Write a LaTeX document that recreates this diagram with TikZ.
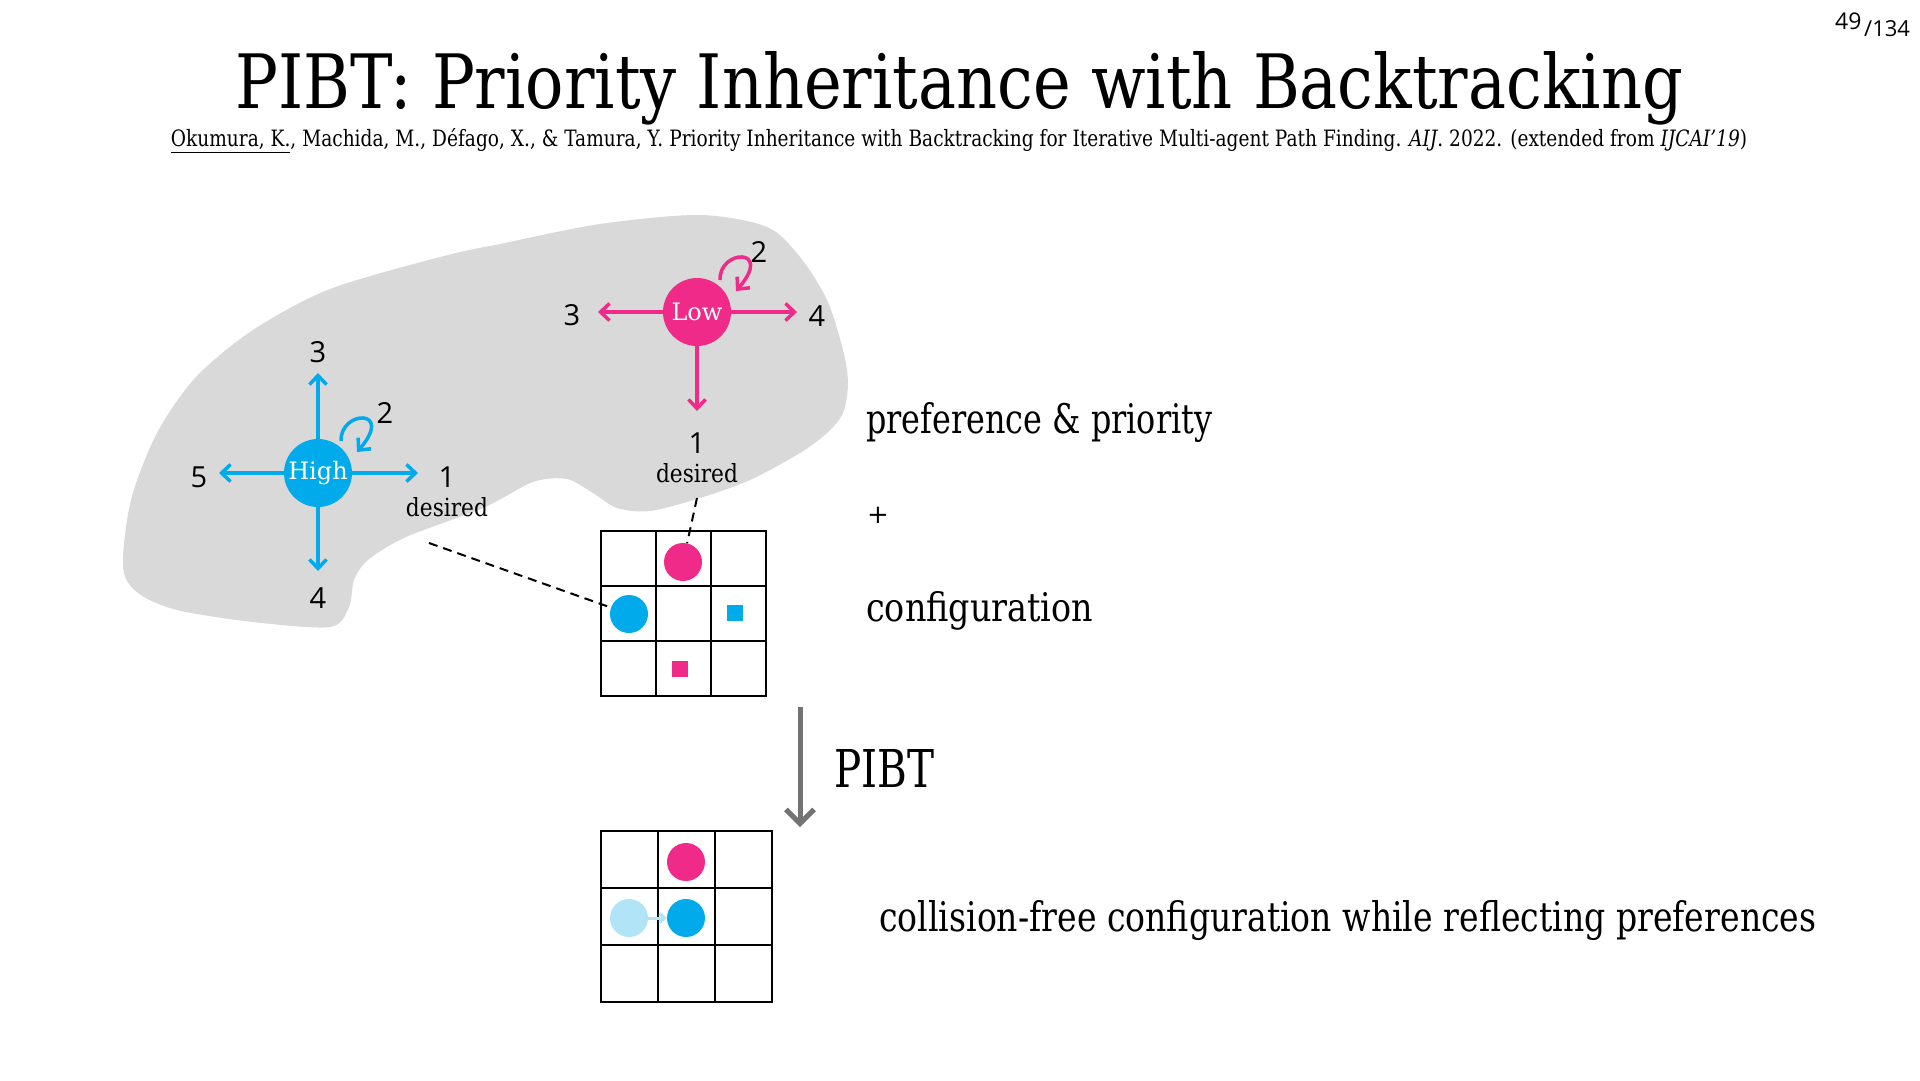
\documentclass[tikz,border=0pt]{standalone}
\usepackage{fontspec}
\setmainfont{DejaVu Serif}
\newfontfamily\numfont{Open Sans}
\usetikzlibrary{arrows.meta}
\definecolor{hiblue}{RGB}{0,170,235}
\definecolor{lopink}{RGB}{240,42,136}
\definecolor{paleblue}{RGB}{178,228,247}
\definecolor{blobgray}{RGB}{217,217,217}
\definecolor{arrowgray}{RGB}{115,115,115}
\begin{document}
\begin{tikzpicture}[x=1pt,y=-1pt,
  agent/.style={circle, minimum size=68pt, inner sep=0pt, text=white, font=\fontsize{24}{24}\selectfont},
  pref/.style={line width=3.5pt, -{Straight Barb[length=9pt,width=17pt]}},
  num/.style={font=\numfont\fontsize{29}{29}\selectfont, inner sep=0pt},
  cellbox/.style={draw=black, line width=2.5pt},
  token/.style={circle, minimum size=38pt, inner sep=0pt},
  goal/.style={minimum size=16pt, inner sep=0pt},
  dashlink/.style={draw=black, line width=2pt, dash pattern=on 9pt off 6pt},
  txt/.style={inner sep=0pt, anchor=base west}]
\useasboundingbox (0,0) rectangle (1920,1080);
\fill[white] (0,0) rectangle (1920,1080);

% title and reference
\node[anchor=base, inner sep=0pt] (title) at (959,108)
  {\resizebox{1447pt}{57pt}{PIBT: Priority Inheritance with Backtracking}};
\node[anchor=base, inner sep=0pt] (cite) at (959,146)
  {\resizebox{1576pt}{18pt}{\underline{Okumura, K.}, Machida, M., Défago, X., \& Tamura, Y. Priority Inheritance with Backtracking for Iterative Multi-agent Path Finding. \textit{AIJ}. 2022. (extended from \textit{IJCAI’19})}};
\node[txt, font=\numfont\fontsize{23}{23}\selectfont] (pg) at (1835,29) {49};
\node[txt, font=\numfont\fontsize{22}{22}\selectfont] (pgtot) at (1864,36) {/134};

% gray blob
\fill[blobgray] plot[smooth cycle, tension=0.5] coordinates {
 (123,567) (138,593) (177,610) (253,622) (330,627) (349,607) (354,580)
 (368,560) (406,537) (483,508) (533,482) (567,479) (593,493) (617,508)
 (650,511) (700,498) (750,480) (800,453) (827,433) (843,413) (848,383)
 (843,350) (827,300) (800,257) (767,227) (700,215) (600,224) (500,244)
 (444,256) (330,289) (253,330) (196,377) (157,433) (131,500)};

% High agent
\node[agent, fill=hiblue] (high) at (318,473) {High};
\coordinate (h1tip) at (418,473);
\coordinate (h3tip) at (318,373);
\coordinate (h4tip) at (318,571);
\coordinate (h5tip) at (219,473);
\draw[pref, hiblue] (high) -- (h1tip);
\draw[pref, hiblue] (high) -- (h3tip);
\draw[pref, hiblue] (high) -- (h4tip);
\draw[pref, hiblue] (high) -- (h5tip);
\draw[pref, hiblue] ([shift={(23,-32)}]high.center) .. controls ([shift={(22,-63)}]high.center) and ([shift={(77,-65)}]high.center) .. ([shift={(39,-21)}]high.center);
\node[num] (h1) at (447,477) {1};
\node[num] (h2) at (385,413) {2};
\node[num] (h3) at (318,352) {3};
\node[num] (h4) at (318,598) {4};
\node[num] (h5) at (199,477) {5};
\node[anchor=base, inner sep=0pt] (hdes) at (447,516) {\resizebox{82pt}{19pt}{desired}};

% Low agent
\node[agent, fill=lopink] (low) at (697,312) {Low};
\coordinate (l1tip) at (697,411);
\coordinate (l3tip) at (598,312);
\coordinate (l4tip) at (797,312);
\draw[pref, lopink] (low) -- (l1tip);
\draw[pref, lopink] (low) -- (l3tip);
\draw[pref, lopink] (low) -- (l4tip);
\draw[pref, lopink] ([shift={(23,-32)}]low.center) .. controls ([shift={(22,-63)}]low.center) and ([shift={(77,-65)}]low.center) .. ([shift={(39,-21)}]low.center);
\node[num] (l1) at (697,443) {1};
\node[num] (l2) at (759,252) {2};
\node[num] (l3) at (572,315) {3};
\node[num] (l4) at (817,316) {4};
\node[anchor=base, inner sep=0pt] (ldes) at (697,482) {\resizebox{82pt}{19pt}{desired}};

% configuration grid
\foreach \i in {0,1,2} \foreach \j in {0,1,2}
  \draw[cellbox] (601+55*\i,531+55*\j) rectangle ++(55,55);
\node[token, fill=lopink] (c1pink) at (683,562) {};
\node[token, fill=hiblue] (c1blue) at (629,614) {};
\node[goal, fill=hiblue] (c1bgoal) at (735,613) {};
\node[goal, fill=lopink] (c1pgoal) at (680,669) {};

\coordinate (hlink) at (429,543);
\coordinate (llink) at (697,498);
\draw[dashlink] (hlink) -- (c1blue);
\draw[dashlink] (llink) -- (c1pink);

% PIBT arrow
\coordinate (pibtstart) at (800,707);
\coordinate (pibtend) at (800,827);
\draw[arrowgray, line width=5pt, -{Straight Barb[length=14pt,width=28pt]}] (pibtstart) -- (pibtend);
\node[txt] (pibt) at (834,787) {\resizebox{100pt}{38pt}{PIBT}};

% result grid
\foreach \i in {0,1,2} \foreach \j in {0,1,2}
  \draw[cellbox] (601+57*\i,831+57*\j) rectangle ++(57,57);
\node[token, fill=lopink] (c2pink) at (686,862) {};
\node[token, fill=paleblue] (c2ghost) at (629,918) {};
\node[token, fill=hiblue] (c2blue) at (686,918) {};
\draw[paleblue, line width=3pt, -{Straight Barb[length=5pt,width=9pt]}] (c2ghost) -- (c2blue);

% right-hand texts
\node[txt] (pp) at (866,433) {\resizebox{346pt}{31pt}{preference \& priority}};
\node[inner sep=0pt, font=\fontsize{26}{26}\selectfont] (plus) at (878,515) {+};
\node[txt] (conf) at (866,621) {\resizebox{227pt}{30pt}{configuration}};
\node[txt] (cfree) at (879,931) {\resizebox{937pt}{31pt}{collision-free configuration while reflecting preferences}};
\end{tikzpicture}
\end{document}
